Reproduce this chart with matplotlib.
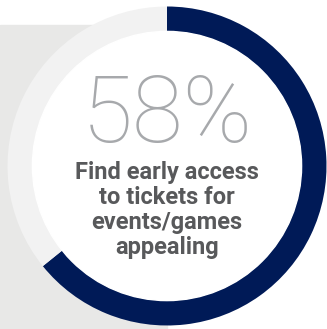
import matplotlib
matplotlib.use("Agg")
import matplotlib.pyplot as plt
from matplotlib.patches import Rectangle, Circle

# datos
headline = "58%"
caption = "Find early access\nto tickets for\nevents/games\nappealing"
ring_values = [64.2, 35.8]          # parte del anillo tal como se ve
ring_colors = ["#001a57", "#f2f2f2"]

W, H = 327, 329
fig = plt.figure(figsize=(W / 100, H / 100), dpi=100)
ax = fig.add_axes([0, 0, 1, 1])

# fondo gris a la izquierda
ax.add_patch(Rectangle((0, 0), 167, H - 25, color="#e8e8e7", zorder=0))

cx, cy = 167, H - 166
ax.pie(ring_values, colors=ring_colors, startangle=90, counterclock=False,
       radius=159.5, center=(cx, cy),
       wedgeprops=dict(width=25, linewidth=0), frame=True)
ax.add_patch(Circle((cx, cy), 134.6, color="white", zorder=3))

ax.text(cx, H - 142, headline, ha="center", va="baseline", fontsize=67,
        family="Roboto", weight="light", color="#a7a9ac", zorder=4)
ax.text(cx, H - 210, caption, ha="center", va="center", fontsize=17,
        family="Roboto", weight="bold", color="#58595b",
        linespacing=1.12, zorder=4)

ax.set_xlim(0, W)
ax.set_ylim(0, H)
ax.set_aspect("auto")
ax.axis("off")
fig.savefig("out.png", dpi=100)
